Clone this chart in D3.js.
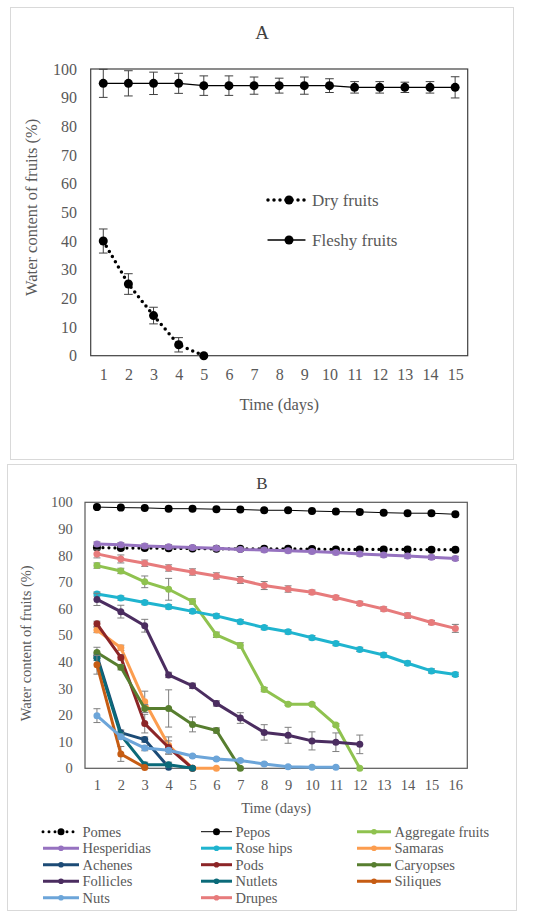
<!DOCTYPE html>
<html>
<head>
<meta charset="utf-8">
<script src="https://cdn.jsdelivr.net/npm/d3@7"></script>
<style>
  body { margin: 0; background: #fff; }
  svg { display: block; font-family: "Liberation Serif", "Times New Roman", serif; }
</style>
</head>
<body>
<div id="chart"></div>
<script>
const width = 550;
const height = 918;

// ----- panel A data ----- //
const daysA = [1, 2, 3, 4, 5, 6, 7, 8, 9, 10, 11, 12, 13, 14, 15];
const dryFruits = [40, 25, 14, 3.8, 0];
const dryErr = [4.2, 3.6, 2.9, 2.5, 0];
const fleshyFruits = [95, 95, 95, 95, 94.2, 94.2, 94.2, 94.2, 94.2, 94.2, 93.6, 93.6, 93.6, 93.6, 93.6];
const fleshyErr = [4.9, 4.4, 3.9, 3.5, 3.4, 3.4, 3, 2.6, 3, 2.4, 2, 2, 1.8, 2, 3.7];

// ----- panel B data ----- //
const daysB = [1, 2, 3, 4, 5, 6, 7, 8, 9, 10, 11, 12, 13, 14, 15, 16];
const seriesNames = ["Pomes", "Pepos", "Aggregate fruits", "Hesperidias", "Rose hips", "Samaras",
  "Achenes", "Pods", "Caryopses", "Follicles", "Nutlets", "Siliques", "Nuts", "Drupes"];
const pomes = [83, 82.8, 82.8, 82.7, 82.6, 82.5, 82.5, 82.5, 82.5, 82.4, 82.3, 82.3, 82.3, 82.3, 82.2, 82.2];
const pepos = [98.2, 98, 97.9, 97.6, 97.6, 97.4, 97.3, 97, 97, 96.7, 96.5, 96.4, 96.1, 95.9, 95.9, 95.5];
const aggregate = [76.2, 74.2, 70.1, 67.3, 62.7, 50.2, 46.2, 29.6, 24.1, 24.1, 16.3, 0];
const hesperidias = [84.3, 84, 83.6, 83.3, 83, 82.7, 82.3, 82.1, 81.8, 81.5, 81.1, 80.6, 80.2, 79.8, 79.3, 78.9];
const roseHips = [65.5, 64, 62.3, 60.7, 59, 57.3, 55.1, 52.9, 51.3, 49.1, 46.9, 44.7, 42.6, 39.5, 36.6, 35.3];
const samaras = [52, 45.3, 25, 8.6, 0, 0];
const achenes = [42.3, 13.4, 10.8, 0.4];
const pods = [54.3, 41.7, 16.8, 7.8, 0];
const caryopses = [43.5, 38, 22.5, 22.5, 16.5, 14.2, 0];
const follicles = [63.5, 58.9, 53.6, 35.1, 31, 24.4, 18.9, 13.5, 12.4, 10.3, 9.8, 9];
const nutlets = [41.5, 12.5, 1.3, 1.3, 0];
const siliques = [38.9, 5.4, 0.3];
const nuts = [19.8, 11.9, 7.6, 6.8, 4.6, 3.5, 2.9, 1.6, 0.6, 0.4, 0.4];
const drupes = [80.6, 78.7, 77.1, 75.3, 73.8, 72.3, 70.8, 68.7, 67.4, 66.2, 64.2, 62, 59.9, 57.4, 54.8, 52.6];

const pomesErr = [0.6, 0.6, 0.6, 0.6, 0.5, 0.5, 0.5, 0.5, 0.5, 0.5, 0.5, 0.5, 0.5, 0.5, 0.5, 0.5];
const peposErr = [0.3, 0.3, 0.3, 0.3, 0.3, 0.3, 0.3, 0.3, 0.3, 0.3, 0.3, 0.3, 0.3, 0.3, 0.3, 0.3];
const aggregateErr = [1, 1, 2.2, 4.1, 1, 1, 1, 0.8, 0.5, 0.5, 0.5, 0];
const hesperidiasErr = [0.8, 0.8, 0.8, 0.8, 0.8, 0.8, 0.8, 0.8, 0.8, 0.8, 0.8, 0.8, 0.8, 0.8, 0.8, 0.8];
const roseHipsErr = [0.8, 0.8, 0.8, 0.8, 0.8, 0.8, 0.8, 0.8, 0.8, 0.8, 0.8, 0.8, 0.8, 0.8, 0.8, 0.8];
const samarasErr = [1, 1, 4, 3.2, 0, 0];
const achenesErr = [1, 1, 1, 0.5];
const podsErr = [1, 1, 3.5, 2.5, 0];
const caryopsesErr = [2, 1, 1.5, 7, 2.8, 1, 0.5];
const folliclesErr = [2.3, 2.4, 2.4, 1, 1, 1, 2, 2.9, 3, 3.4, 3.5, 3.5];
const nutletsErr = [1, 1, 1, 1, 0];
const siliquesErr = [3.5, 2.8, 0];
const nutsErr = [2.6, 1, 1, 0.5, 0.5, 0.5, 0.5, 0.5, 0.3, 0.3, 0.3];
const drupesErr = [1.5, 1.5, 1.2, 1.2, 1.2, 1.2, 1.3, 1.5, 1.2, 0.8, 0.8, 0.8, 0.8, 1, 0.8, 1.5];

const yTicks = [0, 10, 20, 30, 40, 50, 60, 70, 80, 90, 100];

const seriesB = [
  { name: "Pomes", values: pomes, err: pomesErr, color: "#000", dotted: true, width: 3.2, r: 4 },
  { name: "Pepos", values: pepos, err: peposErr, color: "#000", width: 1, r: 4 },
  { name: "Aggregate fruits", values: aggregate, err: aggregateErr, color: "#8fc24f", width: 3, r: 3.5 },
  { name: "Hesperidias", values: hesperidias, err: hesperidiasErr, color: "#9672c0", width: 3, r: 3.5 },
  { name: "Rose hips", values: roseHips, err: roseHipsErr, color: "#1fb4cf", width: 3, r: 3.5 },
  { name: "Samaras", values: samaras, err: samarasErr, color: "#fc9d4f", width: 3, r: 3.5 },
  { name: "Achenes", values: achenes, err: achenesErr, color: "#1c4b76", width: 3, r: 3.5 },
  { name: "Pods", values: pods, err: podsErr, color: "#8c2527", width: 3, r: 3.5 },
  { name: "Caryopses", values: caryopses, err: caryopsesErr, color: "#577e2f", width: 3, r: 3.5 },
  { name: "Follicles", values: follicles, err: folliclesErr, color: "#4b2d60", width: 3, r: 3.5 },
  { name: "Nutlets", values: nutlets, err: nutletsErr, color: "#0b6a79", width: 3, r: 3.5 },
  { name: "Siliques", values: siliques, err: siliquesErr, color: "#c65c13", width: 3, r: 3.5 },
  { name: "Nuts", values: nuts, err: nutsErr, color: "#6ca5d9", width: 3, r: 3.5 },
  { name: "Drupes", values: drupes, err: drupesErr, color: "#e77b7c", width: 3, r: 3.5 },
];

const svg = d3.select("#chart").append("svg")
  .attr("width", width)
  .attr("height", height);

// panel borders
svg.append("rect").attr("x", 10.5).attr("y", 7.5).attr("width", 503).attr("height", 452)
  .attr("fill", "none").attr("stroke", "#d9d9d9");
svg.append("rect").attr("x", 7.5).attr("y", 464.5).attr("width", 509).attr("height", 446)
  .attr("fill", "none").attr("stroke", "#d9d9d9");

// draws one series: error bars, line, markers
function drawSeries(g, x, y, days, s, cap, errColor) {
  const pts = s.values.map((v, i) => ({ day: days[i], v: v, e: s.err[i] }));
  const bars = g.append("g").attr("stroke", errColor).attr("stroke-width", 1);
  pts.filter(d => d.e > 0).forEach(d => {
    const cx = x(d.day);
    const y0 = y(Math.min(100, d.v + d.e));
    const y1 = y(d.v - d.e);
    bars.append("line").attr("x1", cx).attr("x2", cx).attr("y1", y0).attr("y2", y1);
    bars.append("line").attr("x1", cx - cap).attr("x2", cx + cap).attr("y1", y0).attr("y2", y0);
    bars.append("line").attr("x1", cx - cap).attr("x2", cx + cap).attr("y1", y1).attr("y2", y1);
  });
  const line = d3.line().x(d => x(d.day)).y(d => y(d.v));
  g.append("path")
    .datum(pts)
    .attr("d", line)
    .attr("fill", "none")
    .attr("stroke", s.color)
    .attr("stroke-width", s.width)
    .attr("stroke-linecap", "round")
    .attr("stroke-linejoin", "round")
    .attr("stroke-dasharray", s.dotted ? "0,6" : null);
  g.selectAll(null)
    .data(pts)
    .enter()
    .append("circle")
    .attr("cx", d => x(d.day))
    .attr("cy", d => y(d.v))
    .attr("r", s.r)
    .attr("fill", s.color);
}

function drawAxes(g, x, y, days, left, top, right, bottom, fs, frameColor) {
  g.append("rect").attr("x", left).attr("y", top)
    .attr("width", right - left).attr("height", bottom - top)
    .attr("fill", "none").attr("stroke", frameColor).attr("stroke-width", 1.2);
  const yAxis = g.append("g")
    .attr("transform", `translate(${left},0)`)
    .call(d3.axisLeft(y).tickValues(yTicks).tickSize(0).tickPadding(fs * 0.85));
  const xAxis = g.append("g")
    .attr("transform", `translate(0,${bottom})`)
    .call(d3.axisBottom(x).tickValues(days).tickSize(0).tickPadding(fs * 0.8));
  [xAxis, yAxis].forEach(a => {
    a.select(".domain").remove();
    a.selectAll("text")
      .attr("fill", "#595959")
      .style("font-family", "Liberation Serif")
      .style("font-size", fs + "px");
  });
}

// ----- panel A ----- //
{
  const left = 90.7, top = 69, right = 467.7, bottom = 355.7;
  const x = d3.scalePoint().domain(daysA).range([left, right]).padding(0.5);
  const y = d3.scaleLinear().domain([0, 100]).range([bottom, top]);
  const g = svg.append("g");
  drawAxes(g, x, y, daysA, left, top, right, bottom, 16, "#404040");

  const seriesA = [
    { name: "Dry fruits", values: dryFruits, err: dryErr, color: "#000", dotted: true, width: 3.5, r: 4.5 },
    { name: "Fleshy fruits", values: fleshyFruits, err: fleshyErr, color: "#000", width: 1.3, r: 4.5 },
  ];
  seriesA.forEach(s => drawSeries(g, x, y, daysA, s, 4.3, "#404040"));

  g.append("text").attr("x", 262).attr("y", 39).attr("text-anchor", "middle")
    .attr("fill", "#404040").style("font-size", "19px").text("A");
  g.append("text").attr("x", (left + right) / 2).attr("y", 410).attr("text-anchor", "middle")
    .attr("fill", "#595959").style("font-size", "16.5px").text("Time (days)");
  g.append("text")
    .attr("transform", `translate(37,${(top + bottom) / 2 - 5}) rotate(-90)`)
    .attr("text-anchor", "middle")
    .attr("fill", "#595959").style("font-size", "16.5px")
    .text("Water content of fruits (%)");

  // legend
  const leg = g.append("g");
  seriesA.forEach((s, i) => {
    const ly = 200 + i * 40;
    leg.append("line").attr("x1", 268).attr("x2", 305).attr("y1", ly).attr("y2", ly)
      .attr("stroke", s.color).attr("stroke-width", s.dotted ? 3.5 : 1.3)
      .attr("stroke-linecap", "round")
      .attr("stroke-dasharray", s.dotted ? "0,6" : null);
    leg.append("circle").attr("cx", 289).attr("cy", ly).attr("r", 4.5).attr("fill", s.color);
    leg.append("text").attr("x", 312).attr("y", ly + 5.5)
      .attr("fill", "#595959").style("font-size", "17px").text(s.name);
  });
}

// ----- panel B ----- //
{
  const left = 85, top = 502.3, right = 467.3, bottom = 768.3;
  const x = d3.scalePoint().domain(daysB).range([left, right]).padding(0.5);
  const y = d3.scaleLinear().domain([0, 100]).range([bottom, top]);
  const g = svg.append("g");
  drawAxes(g, x, y, daysB, left, top, right, bottom, 14.5, "#595959");

  seriesB.forEach(s => drawSeries(g, x, y, daysB, s, 3.5, "#7f7f7f"));

  g.append("text").attr("x", 262).attr("y", 488.5).attr("text-anchor", "middle")
    .attr("fill", "#404040").style("font-size", "17px").text("B");
  g.append("text").attr("x", (left + right) / 2).attr("y", 813).attr("text-anchor", "middle")
    .attr("fill", "#595959").style("font-size", "14.5px").text("Time (days)");
  g.append("text")
    .attr("transform", `translate(31,${(top + bottom) / 2 + 8}) rotate(-90)`)
    .attr("text-anchor", "middle")
    .attr("fill", "#595959").style("font-size", "14.5px")
    .text("Water content of fruits (%)");

  // legend, three columns
  const colX = [43, 201, 357];
  const lineW = [36, 31, 34];
  const leg = g.append("g");
  seriesB.forEach((s, i) => {
    const c = i % 3, row = Math.floor(i / 3);
    const lx = colX[c], ly = 831.7 + row * 16.5;
    leg.append("line").attr("x1", lx).attr("x2", lx + lineW[c]).attr("y1", ly).attr("y2", ly)
      .attr("stroke", s.color).attr("stroke-width", s.dotted ? 3 : s.width)
      .attr("stroke-linecap", s.dotted ? "round" : "butt")
      .attr("stroke-dasharray", s.dotted ? "0,6" : null);
    leg.append("circle").attr("cx", lx + lineW[c] / 2).attr("cy", ly)
      .attr("r", s.dotted || s.width === 1 ? 3.5 : 2.8).attr("fill", s.color);
    leg.append("text").attr("x", lx + lineW[c] + 3.5).attr("y", ly + 5)
      .attr("fill", "#595959").style("font-size", "14.5px").text(s.name);
  });
}
</script>
</body>
</html>
